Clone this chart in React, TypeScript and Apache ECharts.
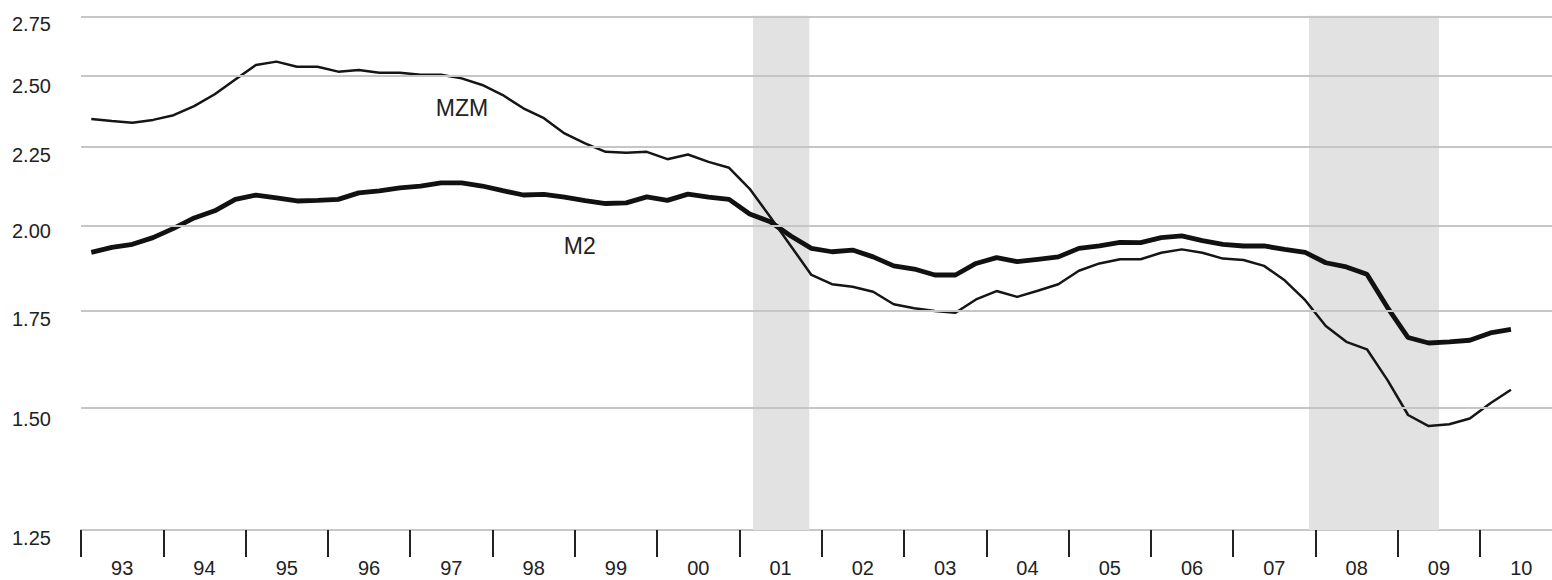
import React, { useEffect, useRef } from "react";
import * as echarts from "echarts";

const startYear = 1993;
const yearTicks = [1993, 1994, 1995, 1996, 1997, 1998, 1999, 2000, 2001, 2002, 2003, 2004, 2005, 2006, 2007, 2008, 2009, 2010];
const yTickValues = [1.25, 1.5, 1.75, 2.0, 2.25, 2.5, 2.75];
const gridValues = [1.5, 1.75, 2.0, 2.25, 2.5, 2.75];

const mzm = [
  2.347, 2.34, 2.334, 2.344, 2.361, 2.394, 2.438, 2.494, 2.55, 2.563,
  2.543, 2.543, 2.524, 2.53, 2.52, 2.52, 2.512, 2.512, 2.498, 2.473,
  2.435, 2.386, 2.35, 2.296, 2.261, 2.232, 2.229, 2.232, 2.207, 2.223,
  2.198, 2.178, 2.109, 2.02, 1.932, 1.848, 1.822, 1.815, 1.801, 1.767,
  1.756, 1.749, 1.744, 1.78, 1.803, 1.787, 1.804, 1.822, 1.86, 1.881,
  1.893, 1.893, 1.912, 1.922, 1.912, 1.895, 1.891, 1.874, 1.833, 1.778,
  1.709, 1.668, 1.649, 1.573, 1.491, 1.466, 1.47, 1.483, 1.518, 1.55,
];

const m2 = [
  1.913, 1.928, 1.937, 1.957, 1.985, 2.017, 2.039, 2.075, 2.089, 2.08,
  2.07, 2.072, 2.075, 2.096, 2.102, 2.112, 2.118, 2.128, 2.128, 2.118,
  2.103, 2.089, 2.091, 2.082, 2.071, 2.062, 2.064, 2.083, 2.072, 2.092,
  2.082, 2.075, 2.029, 2.005, 1.962, 1.925, 1.915, 1.92, 1.9, 1.874,
  1.865, 1.848, 1.848, 1.881, 1.898, 1.886, 1.893, 1.9, 1.925, 1.932,
  1.943, 1.942, 1.957, 1.962, 1.948, 1.937, 1.932, 1.932, 1.922, 1.913,
  1.883, 1.871, 1.85, 1.758, 1.679, 1.665, 1.668, 1.672, 1.691, 1.7,
];

// recessions (decimal years)
const recessions = [
  [2001.166, 2001.85],
  [2007.92, 2009.5],
];

const ln = Math.log;
const FONT = "Liberation Sans, Arial, Helvetica, sans-serif";

export default function App() {
  const ref = useRef<HTMLDivElement>(null);

  useEffect(() => {
    if (!ref.current) return;
    const chart = echarts.init(ref.current, undefined, { renderer: "svg" });
    const qx = (i: number) => startYear + i / 4 + 0.125;
    const yMin = ln(1.25);
    const yMax = ln(2.75);

    chart.setOption({
      animation: false,
      backgroundColor: "#ffffff",
      grid: { left: 81, right: 0, top: 15.7, bottom: 50, containLabel: false },
      xAxis: {
        type: "value",
        min: startYear,
        max: startYear + 1471 / 82.3,
        axisLine: { show: true, lineStyle: { color: "#c8c8c8", width: 2 } },
        axisTick: {
          show: true,
          customValues: yearTicks,
          length: 27,
          lineStyle: { color: "#222", width: 2 },
        },
        axisLabel: {
          customValues: yearTicks.map((y) => y + 0.5),
          formatter: (v: number) => String(Math.floor(v) % 100).padStart(2, "0"),
          color: "#222",
          fontSize: 20,
          fontFamily: FONT,
          margin: 28,
        },
        splitLine: { show: false },
      },
      yAxis: {
        type: "value",
        min: yMin,
        max: yMax,
        axisLine: { show: false },
        axisTick: { show: false },
        splitLine: { show: false },
        axisLabel: {
          customValues: yTickValues.map((v) => ln(v)),
          formatter: (v: number) => Math.exp(v).toFixed(2),
          align: "left",
          margin: 69,
          color: "#222",
          fontSize: 20,
          fontFamily: FONT,
          verticalAlign: "top",
          lineHeight: 16,
        },
      },
      series: [
        {
          type: "line",
          name: "recessions",
          data: [],
          z: 1,
          silent: true,
          markArea: {
            silent: true,
            itemStyle: { color: "#e2e2e2" },
            data: recessions.map(([a, b]) => [
              { xAxis: a, yAxis: yMax },
              { xAxis: b, yAxis: yMin },
            ]),
          },
        },
        {
          type: "line",
          name: "grid",
          data: [],
          z: 2,
          silent: true,
          markLine: {
            silent: true,
            symbol: ["none", "none"],
            label: { show: false },
            lineStyle: { color: "#c6c6c6", width: 2, type: "solid" },
            data: gridValues.map((v) => ({ yAxis: ln(v) })),
          },
        },
        {
          type: "line",
          name: "MZM",
          z: 3,
          showSymbol: false,
          data: mzm.map((v, i) => [qx(i), ln(v)]),
          lineStyle: { color: "#151515", width: 2.5 },
          markPoint: {
            symbol: "circle",
            symbolSize: 0,
            label: {
              show: true,
              formatter: "MZM",
              color: "#222",
              fontSize: 23,
              fontFamily: FONT,
              position: "inside",
            },
            data: [{ coord: [1997.63, ln(2.387)] }],
          },
        },
        {
          type: "line",
          name: "M2",
          z: 4,
          showSymbol: false,
          data: m2.map((v, i) => [qx(i), ln(v)]),
          lineStyle: { color: "#111111", width: 4.8 },
          markPoint: {
            symbol: "circle",
            symbolSize: 0,
            label: {
              show: true,
              formatter: "M2",
              color: "#222",
              fontSize: 23,
              fontFamily: FONT,
              position: "inside",
            },
            data: [{ coord: [1999.06, ln(1.932)] }],
          },
        },
      ],
    });
    return () => chart.dispose();
  }, []);

  return (
    <div
      ref={ref}
      style={{ position: "fixed", left: 0, top: 0, width: 1552, height: 580 }}
    />
  );
}
